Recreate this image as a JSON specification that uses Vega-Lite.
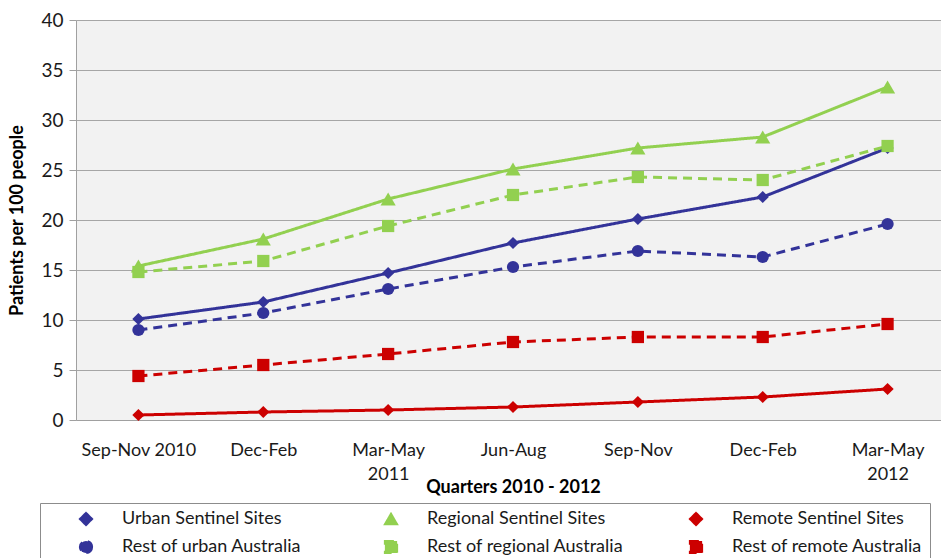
{
  "$schema": "https://vega.github.io/schema/vega-lite/v6.json",
  "autosize": "none",
  "width": 874,
  "height": 400,
  "padding": {"left": 76, "top": 20, "right": 0, "bottom": 138},
  "config": {
    "view": {"fill": "#f2f2f2", "stroke": null},
    "font": "Lato",
    "axis": {"labelFont": "Lato", "titleFont": "Lato", "labelColor": "#1a1a1a", "titleColor": "#000000", "domainColor": "#a0a0a0", "tickColor": "#a0a0a0", "gridColor": "#a6a6a6"}
  },
  "data": {"values": [
    {"q": "Sep-Nov 2010", "series": "Urban Sentinel Sites", "v": 10.1},
    {"q": "Dec-Feb 2011", "series": "Urban Sentinel Sites", "v": 11.8},
    {"q": "Mar-May 2011", "series": "Urban Sentinel Sites", "v": 14.7},
    {"q": "Jun-Aug 2011", "series": "Urban Sentinel Sites", "v": 17.7},
    {"q": "Sep-Nov 2011", "series": "Urban Sentinel Sites", "v": 20.1},
    {"q": "Dec-Feb 2012", "series": "Urban Sentinel Sites", "v": 22.3},
    {"q": "Mar-May 2012", "series": "Urban Sentinel Sites", "v": 27.2},
    {"q": "Sep-Nov 2010", "series": "Regional Sentinel Sites", "v": 15.4},
    {"q": "Dec-Feb 2011", "series": "Regional Sentinel Sites", "v": 18.1},
    {"q": "Mar-May 2011", "series": "Regional Sentinel Sites", "v": 22.1},
    {"q": "Jun-Aug 2011", "series": "Regional Sentinel Sites", "v": 25.1},
    {"q": "Sep-Nov 2011", "series": "Regional Sentinel Sites", "v": 27.2},
    {"q": "Dec-Feb 2012", "series": "Regional Sentinel Sites", "v": 28.3},
    {"q": "Mar-May 2012", "series": "Regional Sentinel Sites", "v": 33.3},
    {"q": "Sep-Nov 2010", "series": "Remote Sentinel Sites", "v": 0.5},
    {"q": "Dec-Feb 2011", "series": "Remote Sentinel Sites", "v": 0.8},
    {"q": "Mar-May 2011", "series": "Remote Sentinel Sites", "v": 1.0},
    {"q": "Jun-Aug 2011", "series": "Remote Sentinel Sites", "v": 1.3},
    {"q": "Sep-Nov 2011", "series": "Remote Sentinel Sites", "v": 1.8},
    {"q": "Dec-Feb 2012", "series": "Remote Sentinel Sites", "v": 2.3},
    {"q": "Mar-May 2012", "series": "Remote Sentinel Sites", "v": 3.1},
    {"q": "Sep-Nov 2010", "series": "Rest of urban Australia", "v": 9.0},
    {"q": "Dec-Feb 2011", "series": "Rest of urban Australia", "v": 10.7},
    {"q": "Mar-May 2011", "series": "Rest of urban Australia", "v": 13.1},
    {"q": "Jun-Aug 2011", "series": "Rest of urban Australia", "v": 15.3},
    {"q": "Sep-Nov 2011", "series": "Rest of urban Australia", "v": 16.9},
    {"q": "Dec-Feb 2012", "series": "Rest of urban Australia", "v": 16.3},
    {"q": "Mar-May 2012", "series": "Rest of urban Australia", "v": 19.6},
    {"q": "Sep-Nov 2010", "series": "Rest of regional Australia", "v": 14.8},
    {"q": "Dec-Feb 2011", "series": "Rest of regional Australia", "v": 15.9},
    {"q": "Mar-May 2011", "series": "Rest of regional Australia", "v": 19.4},
    {"q": "Jun-Aug 2011", "series": "Rest of regional Australia", "v": 22.5},
    {"q": "Sep-Nov 2011", "series": "Rest of regional Australia", "v": 24.3},
    {"q": "Dec-Feb 2012", "series": "Rest of regional Australia", "v": 24.0},
    {"q": "Mar-May 2012", "series": "Rest of regional Australia", "v": 27.4},
    {"q": "Sep-Nov 2010", "series": "Rest of remote Australia", "v": 4.4},
    {"q": "Dec-Feb 2011", "series": "Rest of remote Australia", "v": 5.5},
    {"q": "Mar-May 2011", "series": "Rest of remote Australia", "v": 6.6},
    {"q": "Jun-Aug 2011", "series": "Rest of remote Australia", "v": 7.8},
    {"q": "Sep-Nov 2011", "series": "Rest of remote Australia", "v": 8.3},
    {"q": "Dec-Feb 2012", "series": "Rest of remote Australia", "v": 8.3},
    {"q": "Mar-May 2012", "series": "Rest of remote Australia", "v": 9.6}
  ]},
  "encoding": {
    "x": {
      "field": "q", "type": "ordinal", "sort": null,
      "scale": {"type": "point", "padding": 0.5},
      "axis": {
        "title": "Quarters 2010 - 2012", "titleFontSize": 18, "titleFontWeight": "bold", "titlePadding": -5,
        "labelAngle": 0, "labelFontSize": 18, "labelPadding": 21, "labelLineHeight": 24,
        "labelExpr": "datum.value == 'Sep-Nov 2010' ? datum.value : (datum.value == 'Mar-May 2011' ? ['Mar-May', '2011'] : (datum.value == 'Mar-May 2012' ? ['Mar-May', '2012'] : slice(datum.value, 0, 7)))",
        "ticks": false, "grid": false
      }
    },
    "y": {
      "field": "v", "type": "quantitative",
      "scale": {"domain": [0, 40], "nice": false},
      "axis": {
        "title": "Patients per 100 people", "titleFontSize": 18, "titleFontWeight": "bold", "titlePadding": 14,
        "values": [0, 5, 10, 15, 20, 25, 30, 35, 40], "labelFontSize": 19, "labelPadding": 6, "tickSize": 7, "grid": true
      }
    },
    "color": {
      "field": "series", "type": "nominal",
      "scale": {
        "domain": ["Urban Sentinel Sites", "Regional Sentinel Sites", "Remote Sentinel Sites", "Rest of urban Australia", "Rest of regional Australia", "Rest of remote Australia"],
        "range": ["#333399", "#92d050", "#cc0000", "#333399", "#92d050", "#cc0000"]
      },
      "legend": {
        "title": null, "orient": "none", "legendX": -36, "legendY": 483, "direction": "horizontal", "columns": 3,
        "gridAlign": "all", "strokeColor": "#8c8c8c", "padding": 7, "symbolOffset": 30, "clipHeight": 18,
        "rowPadding": 10, "columnPadding": 33, "labelFont": "Lato", "labelFontSize": 18, "labelColor": "#1a1a1a", "labelOffset": 27, "labelLimit": 320,
        "symbolSize": 150, "symbolStrokeWidth": 2
      }
    }
  },
  "layer": [
    {
      "mark": {"type": "line", "strokeWidth": 3},
      "encoding": {
        "strokeDash": {
          "field": "series", "type": "nominal",
          "scale": {
            "domain": ["Urban Sentinel Sites", "Regional Sentinel Sites", "Remote Sentinel Sites", "Rest of urban Australia", "Rest of regional Australia", "Rest of remote Australia"],
            "range": [[1, 0], [1, 0], [1, 0], [9, 6], [9, 6], [9, 6]]
          },
          "legend": {"title": null}
        }
      }
    },
    {
      "transform": [{"filter": "datum.series != 'Regional Sentinel Sites'"}],
      "mark": {"type": "point", "filled": true, "opacity": 1, "size": 150},
      "encoding": {
        "shape": {
          "field": "series", "type": "nominal",
          "scale": {
            "domain": ["Urban Sentinel Sites", "Regional Sentinel Sites", "Remote Sentinel Sites", "Rest of urban Australia", "Rest of regional Australia", "Rest of remote Australia"],
            "range": ["diamond", "triangle-up", "diamond", "circle", "square", "square"]
          },
          "legend": {"title": null}
        }
      }
    },
    {
      "transform": [{"filter": "datum.series == 'Regional Sentinel Sites'"}],
      "mark": {"type": "point", "filled": true, "opacity": 1, "size": 230},
      "encoding": {
        "shape": {
          "field": "series", "type": "nominal",
          "scale": {
            "domain": ["Urban Sentinel Sites", "Regional Sentinel Sites", "Remote Sentinel Sites", "Rest of urban Australia", "Rest of regional Australia", "Rest of remote Australia"],
            "range": ["diamond", "triangle-up", "diamond", "circle", "square", "square"]
          },
          "legend": {"title": null}
        }
      }
    }
  ]
}
